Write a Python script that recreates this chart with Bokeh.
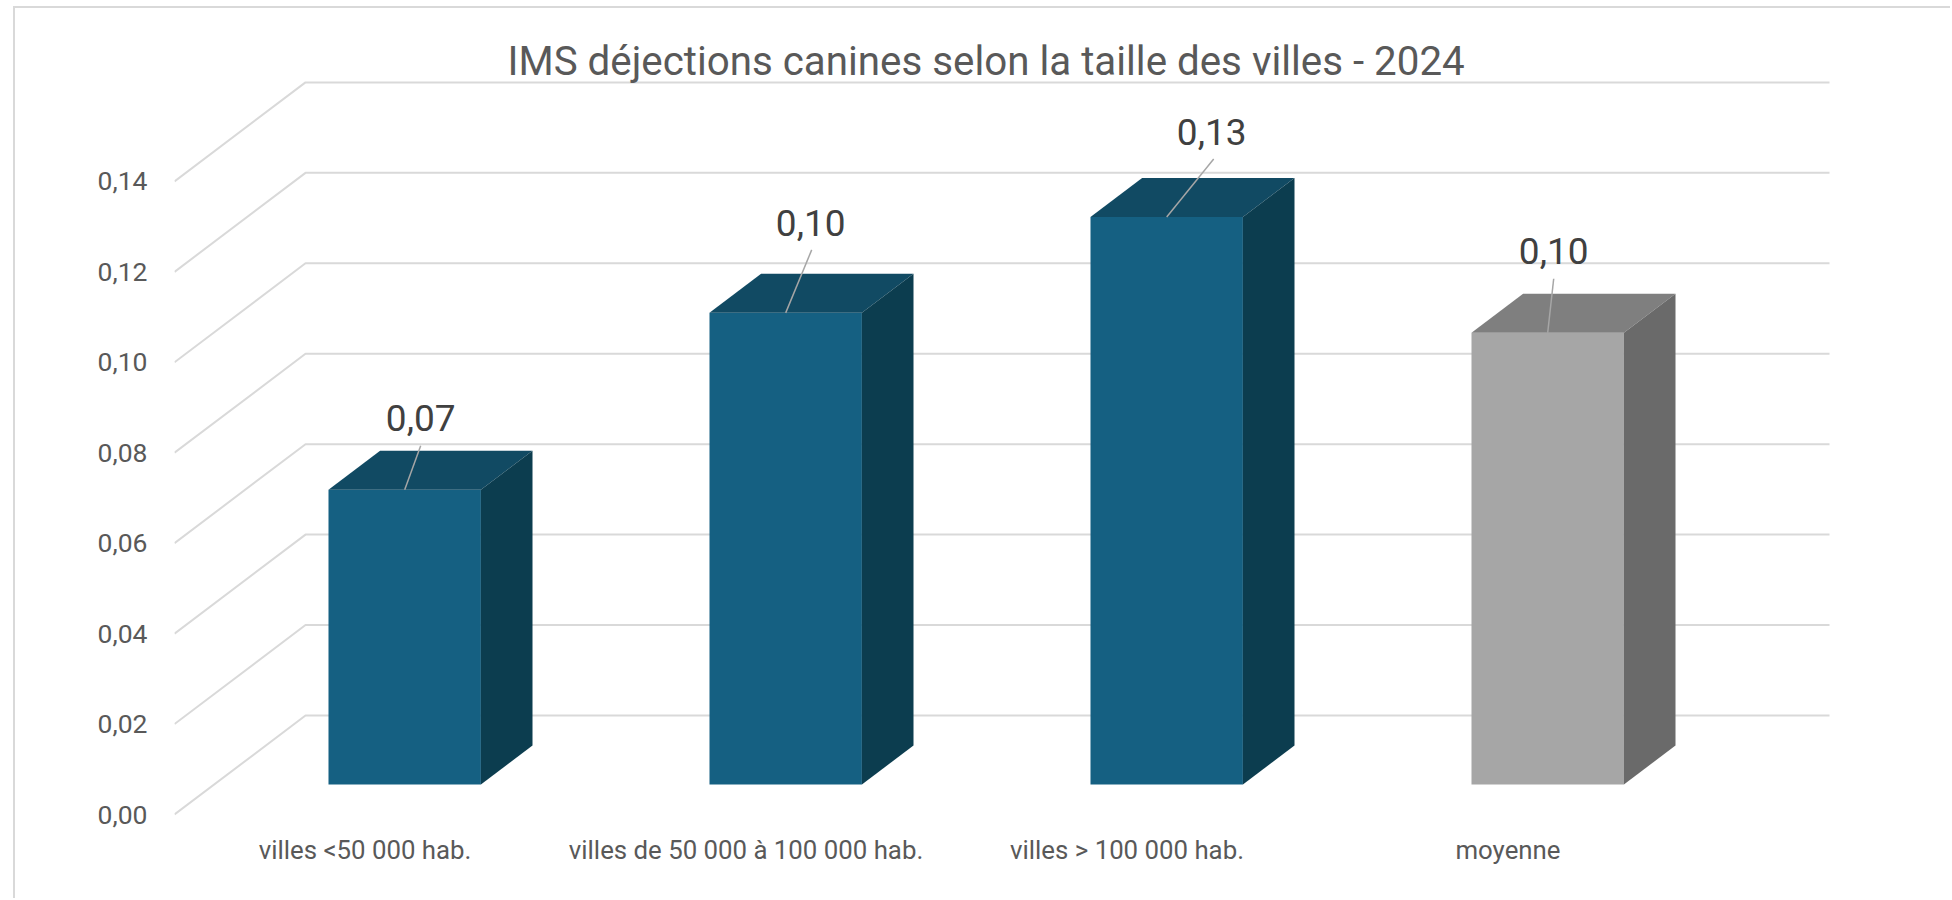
from bokeh.plotting import figure
from bokeh.models import FixedTicker, CustomJSTickFormatter, Range1d
from bokeh.core.properties import value
from bokeh.embed import file_html
from bokeh.resources import INLINE

title_text = "IMS déjections canines selon la taille des villes - 2024"
categories = ["villes <50 000 hab.", "villes de 50 000 à 100 000 hab.", "villes > 100 000 hab.", "moyenne"]
values = [0.0652, 0.1043, 0.1255, 0.0999]
labels = ["0,07", "0,10", "0,13", "0,10"]
y_ticks = [0.00, 0.02, 0.04, 0.06, 0.08, 0.10, 0.12, 0.14]

front_colors = ["#156082", "#156082", "#156082", "#a6a6a6"]
top_colors = ["#114a63", "#114a63", "#114a63", "#7f7f7f"]
side_colors = ["#0c3d4f", "#0c3d4f", "#0c3d4f", "#6a6a6a"]

# pixel scales of the category and value axes, depth of the oblique projection
PX_X, PX_Y = 381.0, 4522.0
DEPTH_X, DEPTH_Y = 131.0 / PX_X, 99.0 / PX_Y
BAR_WIDTH, BAR_D0, BAR_D1 = 0.4, 0.303, 0.697

# leader and label offsets from the bar's top front edge, in pixels
label_off = [(16, 72), (25, 90), (45, 85), (6, 82)]
leader_off = [(16, 44), (26, 63), (47, 58), (6, 54)]

FONT = "Roboto"
W, H = 1937, 892
L, R, T, B = 159, 121, 72, 80
frame_w, frame_h = W - L - R, H - T - B

p = figure(width=W, height=H, output_backend="svg", toolbar_location=None,
           x_range=Range1d(0, frame_w / PX_X),
           y_range=Range1d(-6 / PX_Y, (frame_h - 6) / PX_Y),
           min_border_left=L, min_border_right=R, min_border_top=T, min_border_bottom=B,
           title=title_text)
p.margin = (6, 0, 0, 13)
p.styles = {"border-left": "2px solid #d9d9d9", "border-top": "2px solid #d9d9d9"}
p.outline_line_color = None
p.grid.visible = False
p.title.align = "left"
p.title.offset = 333
p.title.text_font = FONT
p.title.text_font_style = "normal"
p.title.text_font_size = "40.3px"
p.title.text_color = "#595959"
p.title.standoff = -8


def pt(x, y, d):
    return x + d * DEPTH_X, y + d * DEPTH_Y


# floor/side diagonals and back-wall gridlines
n = len(categories)
gx, gy = [], []
for v in y_ticks:
    a = pt(0, v, 0); b = pt(0, v, 1); c = pt(n, v, 1)
    gx.append([a[0], b[0], c[0]])
    gy.append([a[1], b[1], c[1]])
p.multi_line(gx, gy, line_color="#d9d9d9", line_width=2)

# boxes
for i, v in enumerate(values):
    x0 = i + 0.5 - BAR_WIDTH / 2
    x1 = i + 0.5 + BAR_WIDTH / 2
    corners = [pt(x0, 0, BAR_D0), pt(x1, 0, BAR_D0), pt(x1, v, BAR_D0), pt(x0, v, BAR_D0)]
    p.patch([c[0] for c in corners], [c[1] for c in corners], fill_color=front_colors[i], line_color=None)
    top = [pt(x0, v, BAR_D0), pt(x1, v, BAR_D0), pt(x1, v, BAR_D1), pt(x0, v, BAR_D1)]
    p.patch([c[0] for c in top], [c[1] for c in top], fill_color=top_colors[i], line_color=None)
    side = [pt(x1, 0, BAR_D0), pt(x1, 0, BAR_D1), pt(x1, v, BAR_D1), pt(x1, v, BAR_D0)]
    p.patch([c[0] for c in side], [c[1] for c in side], fill_color=side_colors[i], line_color=None)

# leaders and data labels
for i, v in enumerate(values):
    cx, cy = pt(i + 0.5, v, BAR_D0)
    p.line([cx, cx + leader_off[i][0] / PX_X], [cy, cy + leader_off[i][1] / PX_Y],
           line_color="#a6a6a6", line_width=1.5)
    p.text([cx + label_off[i][0] / PX_X], [cy + label_off[i][1] / PX_Y], text=[labels[i]],
           text_align="center", text_baseline="middle", text_color="#404040",
           text_font=value(FONT), text_font_size="37px")

p.yaxis.ticker = FixedTicker(ticks=y_ticks)
p.yaxis.formatter = CustomJSTickFormatter(code="return tick.toFixed(2).replace('.', ',')")
p.yaxis.axis_line_color = None
p.yaxis.major_tick_line_color = None
p.yaxis.minor_tick_line_color = None
p.yaxis.major_label_standoff = 21
p.yaxis.major_label_text_font = FONT
p.yaxis.major_label_text_font_size = "26.5px"
p.yaxis.major_label_text_color = "#595959"

p.xaxis.ticker = FixedTicker(ticks=[i + 0.5 for i in range(n)])
p.xaxis.major_label_overrides = {i + 0.5: c for i, c in enumerate(categories)}
p.xaxis.axis_line_color = None
p.xaxis.major_tick_line_color = None
p.xaxis.minor_tick_line_color = None
p.xaxis.major_label_standoff = 8
p.xaxis.major_label_text_font = FONT
p.xaxis.major_label_text_font_size = "25.8px"
p.xaxis.major_label_text_color = "#595959"

open("out.html", "w").write(file_html(p, INLINE))
